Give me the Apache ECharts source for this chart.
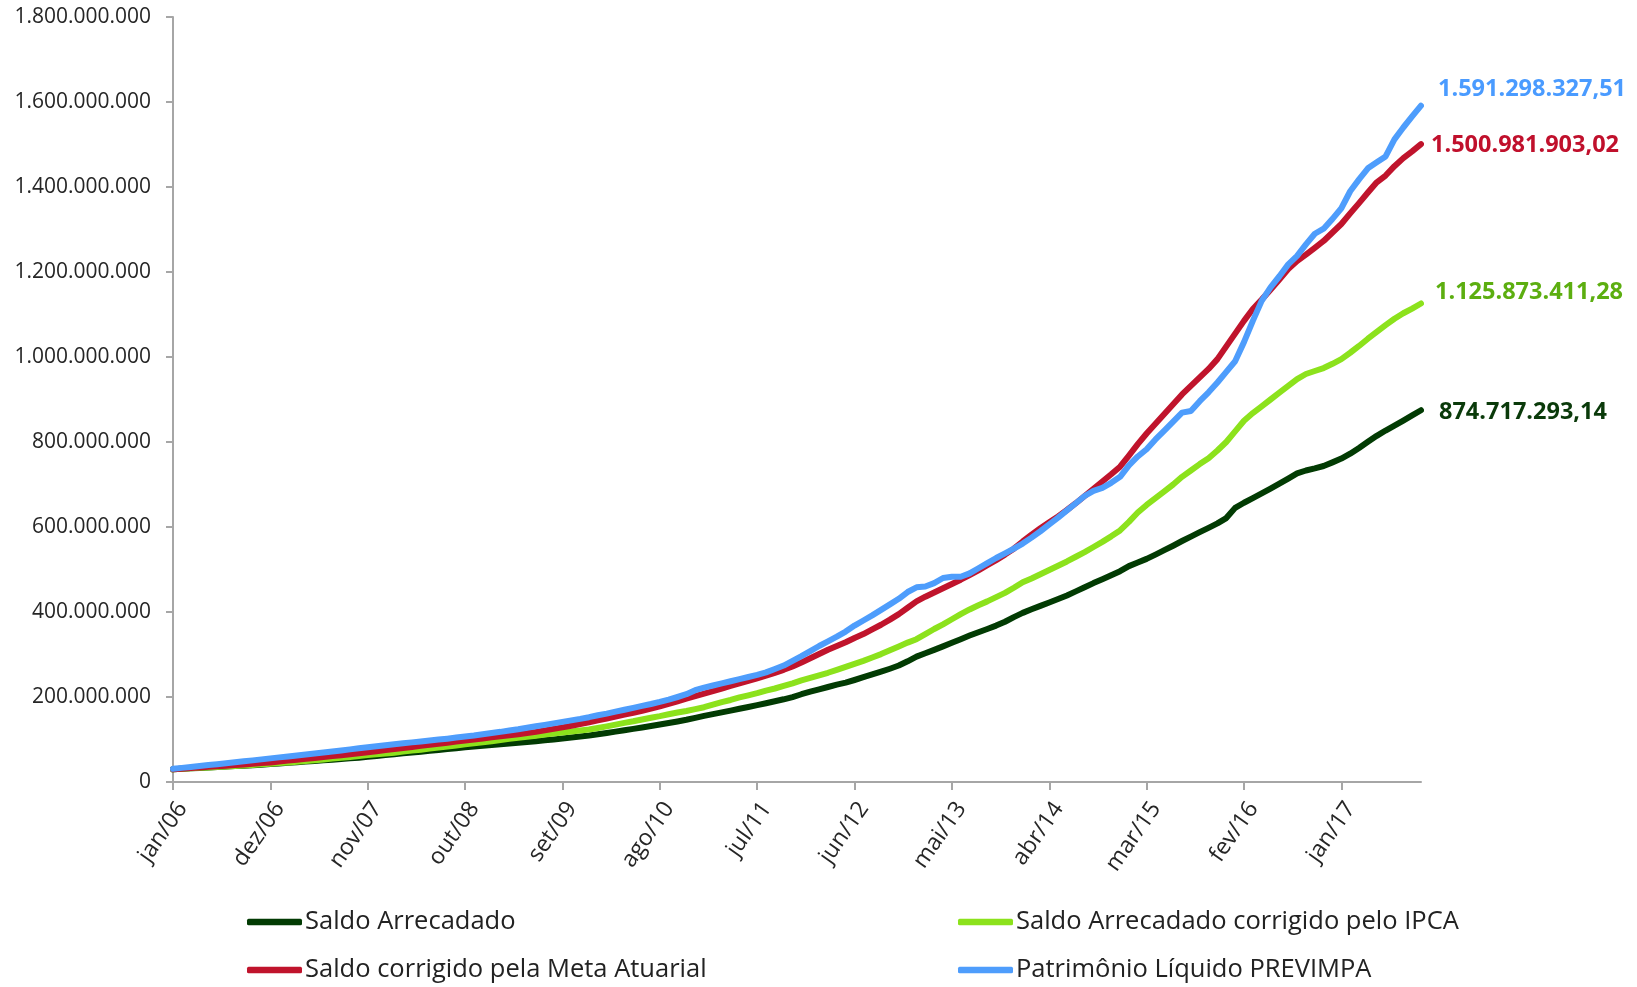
<!DOCTYPE html>
<html><head><meta charset="utf-8">
<script src="https://cdn.jsdelivr.net/npm/echarts@6/dist/echarts.min.js"></script>
<style>html,body{margin:0;padding:0;background:#fff}#c{width:1637px;height:987px}</style>
</head><body><div id="c"></div>
<script>
// Month names (pt-BR) and years used to build the category axis
const MONTHS = ['jan','fev','mar','abr','mai','jun','jul','ago','set','out','nov','dez'];
const YEARS = ['06','07','08','09','10','11','12','13','14','15','16','17'];
const LAST_MONTH_2017 = 9; // out/17

// Values in millions of R$
const saldoArrecadado = [
30.0,31.0,32.1,33.2,34.2,35.3,36.4,37.4,38.5,39.6,40.7,42.2,
43.6,45.1,46.6,48.1,49.6,51.1,52.6,54.2,55.7,57.3,59.2,61.4,
63.4,65.4,67.4,69.4,71.4,73.4,75.5,77.5,79.6,81.7,83.6,85.2,
87.0,88.6,90.4,92.2,94.0,96.0,98.0,100.2,102.4,104.6,107.0,109.5,
112.5,115.5,118.6,121.8,125.0,128.3,131.7,135.2,138.8,142.5,146.4,151.0,
155.5,159.6,163.8,168.0,172.3,176.6,181.0,185.4,189.9,194.6,199.8,206.5,
212.5,218.0,223.5,229.2,234.0,240.0,246.5,253.0,259.5,266.5,274.0,284.0,
295.0,303.0,311.0,319.0,327.5,336.0,344.5,352.5,360.0,368.0,377.0,388.0,
398.0,406.5,414.5,422.5,430.5,439.0,448.5,458.0,468.0,477.0,486.5,496.0,
508.0,516.5,525.0,535.0,545.5,556.0,567.0,577.5,588.0,598.0,608.5,621.0,
645.0,657.0,668.0,679.0,690.5,702.0,714.0,726.0,733.0,738.0,743.5,752.0,
761.0,772.5,786.0,800.5,814.5,827.0,838.5,850.5,862.5,874.71729314
];
const saldoIPCA = [
30.0,31.1,32.2,33.3,34.4,35.5,36.6,37.8,39.0,40.2,41.5,43.0,
44.5,46.0,47.8,49.6,51.4,53.2,55.0,57.0,59.0,61.2,63.5,65.5,
67.0,69.0,71.5,74.0,76.0,78.5,81.0,83.5,86.0,88.5,91.0,93.5,
96.0,99.0,101.5,104.0,106.5,109.0,111.5,114.0,116.5,119.0,121.0,123.5,
127.0,130.8,134.9,139.0,142.8,147.1,151.2,155.0,159.3,163.4,167.2,171.5,
176,182,188,193,199,204,209,215,220,226,232,239,
245,251,257,264,271,278,285,293,301,310,319,328,
336,348,360,371,383,395,406,416,425,435,445,457,
470,479,489,499,509,519,530,541,553,565,578,592,
612,634,652,668,684,700,718,733,748,762,780,800,
825,850,868,884,900,916,932,948,960,967,974,984,
995,1010,1026,1043,1059,1075,1090,1103,1114,1125.87341128
];
const saldoMeta = [
30.0,31.4,32.8,34.2,35.6,37.0,38.4,39.9,41.4,42.9,44.5,46.1,
48.2,50.3,52.4,54.5,56.6,58.7,60.9,63.1,65.4,67.7,70.0,72.5,
75.0,77.5,80.0,82.5,85.0,87.5,90.0,92.4,95.0,97.8,100.0,102.5,
105,107.5,110,112.5,115,118,121.5,125,128.5,132.5,136.5,140.5,
145,149.5,154,158.5,163,167.5,172.5,178,184,190,196,202,
208,214,220,226,232,238,244,250.5,257,264,272,281,
291,301,311,320,329,339,348,359,370,382,395,410,
425,436,446,456,466,476,487,498,510,522,535,549,
566,582,597,611,625,640,656,673,690,707,724,742,
768,795,820,843,866,889,912,932,952,972,995,1025,
1055,1085,1113,1135,1158,1182,1207,1226,1241,1257,1273,1293,
1313,1338,1362,1387,1411,1427,1449,1468,1484,1500.98190302
];
const patrimonio = [
31.0,33.2,35.4,37.6,39.8,42.0,44.2,46.4,48.6,50.9,53.2,55.6,
57.9,60.2,62.5,64.8,67.1,69.5,71.9,74.3,76.8,79.3,81.8,84.2,
86.5,88.8,91.0,93.2,95.4,97.6,99.8,102.0,104.5,107.0,109.5,112.5,
115.5,118,121,124,127.5,131,134.5,138,141.5,145,148.5,152.5,
157,161,165.5,170,174.5,179,183.5,188.5,194,200,206.5,216,
222,227,232,237,242,247,252,258,266,274,285,296,
308,320,331,342,354,368,380,392,405,418,431,447,
458,460,468,480,483,483,491,503,515,527,538,549,
561,575,590,606,622,639,656,673,685,692,704,718,
745,766,783,806,827,848,869,873,896,917,940,965,
990,1035,1085,1132,1164,1190,1218,1238,1265,1290,1302,1325,
1350,1390,1418,1444,1458,1472,1512,1540,1566,1591.29832751
];

const seriesNames = ['Saldo Arrecadado','Saldo Arrecadado corrigido pelo IPCA','Saldo corrigido pela Meta Atuarial','Patrimônio Líquido PREVIMPA'];
const lineColors = ['#023B03','#8CE21C','#C0142C','#4E9DFC'];
const labelColors = ['#0A3A0A','#5CAE10','#C0102C','#4A9BFF'];

const categories = [];
YEARS.forEach((y, yi) => {
  MONTHS.forEach((m, mi) => {
    if (yi === YEARS.length - 1 && mi > LAST_MONTH_2017) return;
    categories.push(m + '/' + y);
  });
});

function dots(intStr){ return intStr.replace(/\B(?=(\d{3})+(?!\d))/g, '.'); }
function fmtAxis(v){ return dots(String(Math.round(v * 1e6))); }
function fmtEnd(v){
  const s = (v * 1e6).toFixed(2).split('.');
  return dots(s[0]) + ',' + s[1];
}

const FONT = '"Open Sans", "Liberation Sans", sans-serif';
const dataSets = [saldoArrecadado, saldoIPCA, saldoMeta, patrimonio];
const endOffsets = [[18, 2], [14, -11], [10, 1], [17, -16]];

const series = dataSets.map((d, i) => ({
  name: seriesNames[i],
  type: 'line',
  data: d,
  symbol: 'none',
  smooth: false,
  lineStyle: { color: lineColors[i], width: 6, cap: 'round', join: 'round' },
  itemStyle: { color: lineColors[i] },
  emphasis: { disabled: true },
  endLabel: {
    show: true,
    distance: 0,
    offset: endOffsets[i],
    formatter: p => fmtEnd(p.value),
    color: labelColors[i],
    fontFamily: FONT,
    fontWeight: 'bold',
    fontSize: 23.5
  }
}));

const legendPos = [[242, 904], [953, 904], [242, 952], [953, 952]];
const legends = seriesNames.map((n, i) => ({
  data: [n],
  left: legendPos[i][0],
  top: legendPos[i][1],
  icon: 'roundRect',
  itemWidth: 55,
  itemHeight: 6.5,
  itemGap: 0,
  textStyle: { fontFamily: FONT, fontSize: 25.5, color: '#222', padding: [0, 0, 0, -2] },
  selectedMode: false
}));

const chart = echarts.init(document.getElementById('c'), null, { renderer: 'canvas' });
chart.setOption({
  animation: false,
  backgroundColor: '#fff',
  grid: { left: 173, right: 216, top: 17, bottom: 205, containLabel: false },
  legend: legends,
  xAxis: {
    type: 'category',
    data: categories,
    boundaryGap: false,
    axisLine: { lineStyle: { color: '#A6A6A6', width: 2 } },
    axisTick: { show: true, interval: 10, length: 8, lineStyle: { color: '#A6A6A6', width: 2 } },
    axisLabel: { interval: 10, rotate: 55, margin: 16, verticalAlign: 'top', fontFamily: FONT, fontSize: 23, color: '#262626' },
    splitLine: { show: false }
  },
  yAxis: {
    type: 'value',
    min: 0, max: 1800, interval: 200,
    axisLine: { show: true, lineStyle: { color: '#A6A6A6', width: 2 } },
    axisTick: { show: true, length: 7, lineStyle: { color: '#A6A6A6', width: 2 } },
    axisLabel: { formatter: fmtAxis, margin: 22, fontFamily: FONT, fontSize: 21, color: '#262626' },
    splitLine: { show: false }
  },
  series: series
});
</script>
</body></html>
